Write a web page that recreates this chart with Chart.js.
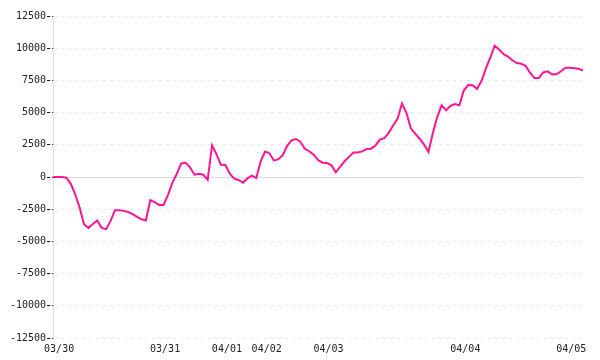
<!DOCTYPE html>
<html>
<head>
<meta charset="utf-8">
<script src="https://cdn.jsdelivr.net/npm/chart.js@4/dist/chart.umd.min.js"></script>
<style>
html, body { margin: 0; padding: 0; background: #fff; }
#wrap { width: 600px; height: 360px; }
</style>
</head>
<body>
<div id="wrap"><canvas id="chart"></canvas></div>
<script>
// day labels and the index where each day starts
const dayLabels = ["03/30", "03/31", "04/01", "04/02", "04/03", "04/04", "04/05"];
const dayStart = [0, 24, 38, 47, 61, 92, 116];

// series values
const values = [
  0, 0, 0, -50, -530, -1340, -2380, -3660, -3950, -3650,
  -3380, -3950, -4050, -3430, -2580, -2590, -2630, -2720, -2890, -3100,
  -3280, -3380, -1800, -1950, -2170, -2170, -1400, -450, 230, 1050,
  1100, 750, 180, 255, 180, -230, 2450, 1770, 950, 930,
  255, -130, -230, -450, -110, 100, -80, 1220, 1980, 1840,
  1270, 1380, 1690, 2420, 2840, 2950, 2740, 2190, 2000, 1730,
  1320, 1110, 1080, 920, 360, 780, 1220, 1560, 1900, 1900,
  1990, 2170, 2200, 2450, 2900, 3020, 3430, 4000, 4510, 5700,
  5000, 3780, 3360, 2970, 2520, 1950, 3410, 4670, 5580, 5180,
  5520, 5670, 5570, 6710, 7140, 7120, 6830, 7450, 8410, 9260,
  10200, 9900, 9530, 9350, 9060, 8850, 8800, 8630, 8100, 7690,
  7680, 8120, 8200, 7970, 7970, 8210, 8480, 8480, 8450, 8400,
  8270
];

// y tick range
const yMin = -12500;
const yMax = 12500;
const yStep = 2500;

let labels = values.map(() => "");
dayStart.forEach((idx, k) => { labels[idx] = dayLabels[k]; });

// solid zero line on top of the dashed grid
const zeroLine = {
  id: "zeroLine",
  beforeDatasetsDraw(chart) {
    const y = Math.round(chart.scales.y.getPixelForValue(0)) + 0.5;
    const ctx = chart.ctx;
    ctx.save();
    ctx.strokeStyle = "#dddddd";
    ctx.lineWidth = 1;
    ctx.beginPath();
    ctx.moveTo(chart.chartArea.left, y);
    ctx.lineTo(chart.chartArea.right, y);
    ctx.stroke();
    ctx.restore();
  }
};

Chart.defaults.font.family = "'DejaVu Sans Mono', monospace";
Chart.defaults.font.size = 10;
Chart.defaults.color = "#222";

new Chart(document.getElementById("chart"), {
  type: "line",
  data: {
    labels: labels,
    datasets: [{
      data: values,
      borderColor: "#ff1493",
      borderWidth: 2,
      pointRadius: 0,
      tension: 0,
      fill: false
    }]
  },
  options: {
    responsive: true,
    maintainAspectRatio: false,
    animation: false,
    layout: { padding: { left: 9, right: 17, top: 16, bottom: 0 } },
    plugins: { legend: { display: false }, tooltip: { enabled: false } },
    scales: {
      x: {
        grid: { display: false, drawTicks: false },
        border: { display: false },
        ticks: {
          autoSkip: false,
          maxRotation: 0,
          minRotation: 0,
          padding: 5,
          labelOffset: 6
        }
      },
      y: {
        min: yMin,
        max: yMax,
        border: { display: true, color: "#dddddd", width: 1, dash: [3, 4] },
        grid: {
          color: "#e8e8e8",
          lineWidth: 1,
          tickLength: 6,
          tickColor: "#111",
          tickBorderDash: [3, 2]
        },
        ticks: {
          stepSize: yStep,
          padding: 1,
          callback: v => String(v)
        }
      }
    }
  },
  plugins: [zeroLine]
});
</script>
</body>
</html>
